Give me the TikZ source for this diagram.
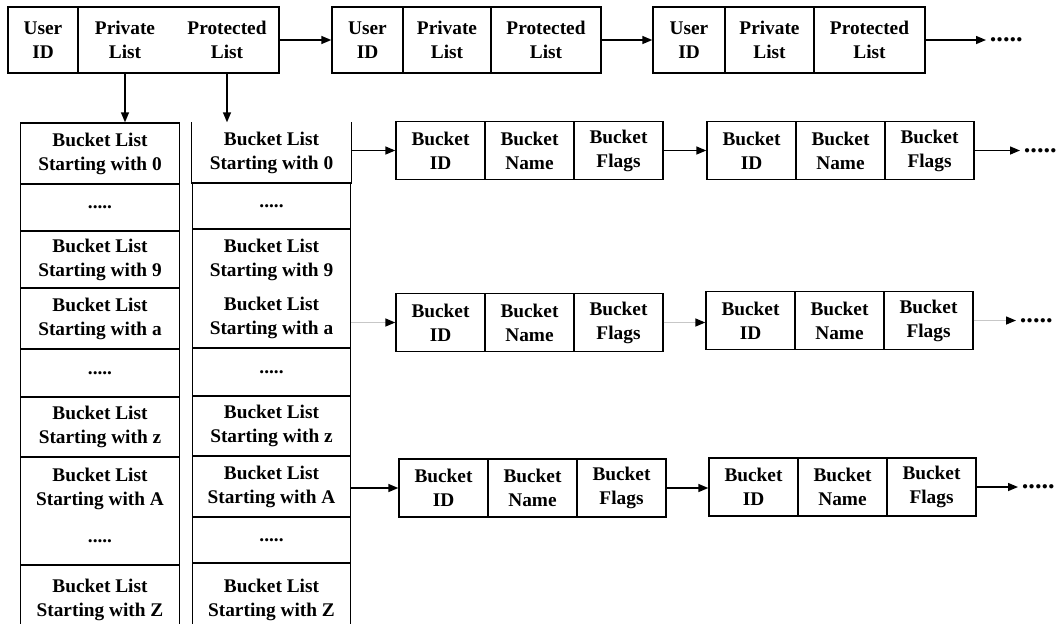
\documentclass[tikz,border=0pt]{standalone}
\usepackage{fontspec}
\setmainfont{Liberation Serif}
\usepackage{tikz}
\usetikzlibrary{arrows.meta}
\tikzset{
  rec/.style={draw,line width=0.8pt,inner sep=0pt,align=center,font=\fontsize{11}{13.6}\selectfont\bfseries},
  txt/.style={inner sep=0pt,align=center,font=\fontsize{11}{13.6}\selectfont\bfseries},
  ucel/.style={rec,minimum height=13.2mm},
  bcel/.style={rec,minimum width=17.8mm,minimum height=11.6mm},
  lcel/.style={rec,minimum width=3.17cm},
  lnk/.style={line width=0.8pt,-{Triangle[length=2mm,width=1.6mm]}},
  faint/.style={lnk,draw=black!22,-{Triangle[length=2mm,width=1.6mm,black]}},
  more/.style={inner xsep=2pt,inner ysep=0pt,font=\fontsize{15}{15}\selectfont\bfseries}
}
% one bucket record: name, left x, centre y
\newcommand{\bkrec}[3]{
  \node[bcel] (#1i) at (#2+44.5,#3) {Bucket\\ID};
  \node[bcel] (#1n) at (#2+133.5,#3) {Bucket\\Name};
  \node[bcel] (#1f) at (#2+222.5,#3) {Bucket\\Flags};
}

\begin{document}
\begin{tikzpicture}[x=0.02cm,y=-0.02cm]
\useasboundingbox (0,0) rectangle (1060,623);

% user records
\node[ucel,minimum width=14mm] (u1id) at (43,40) {User\\ID};
\node[ucel,minimum width=40.2mm] (u1pl) at (178.5,40) {};
\node[txt] (u1pv) at (125,40) {Private\\List};
\node[txt] (u1pt) at (227,40) {Protected\\List};
\node[ucel,minimum width=14.2mm] (u2id) at (367.5,40) {User\\ID};
\node[ucel,minimum width=17.6mm] (u2pv) at (447,40) {Private\\List};
\node[ucel,minimum width=22mm] (u2pt) at (546,40) {Protected\\List};
\node[ucel,minimum width=14.4mm] (u3id) at (689,40) {User\\ID};
\node[ucel,minimum width=17.8mm] (u3pv) at (769.5,40) {Private\\List};
\node[ucel,minimum width=22.2mm] (u3pt) at (869.5,40) {Protected\\List};
\node[more,anchor=west] (umore) at (986,40) {.....};
\draw[lnk] (u1pl) -- (u2id);
\draw[lnk] (u2pt) -- (u3id);
\draw[lnk] (u3pt) -- (umore);

% private bucket lists
\node[lcel,minimum height=12.2mm] (p0) at (100,153.5) {Bucket List\\Starting with 0};
\node[lcel,minimum height=9.4mm] (pd1) at (100,207.5) {.....};
\node[lcel,minimum height=11.4mm] (p9) at (100,259.5) {Bucket List\\Starting with 9};
\node[lcel,minimum height=12.2mm] (pa) at (100,318.5) {Bucket List\\Starting with a};
\node[lcel,minimum height=9.6mm] (pd2) at (100,373) {.....};
\node[lcel,minimum height=12mm] (pz) at (100,427) {Bucket List\\Starting with z};
\node[lcel,minimum height=21.6mm] (pA) at (100,511) {};
\node[txt] (pAt) at (100,489) {Bucket List\\Starting with A};
\node[txt] (pAd) at (100,541) {.....};
\node[lcel,minimum height=14mm] (pZ) at (100,600) {Bucket List\\Starting with Z};

% protected bucket lists
\node[lcel,draw=none,minimum height=12mm] (q0) at (271.5,153) {Bucket List\\Starting with 0};
\draw[line width=0.8pt] (q0.north west) -- (q0.south west) -- (q0.south east) -- (q0.north east);
\node[lcel,minimum height=9.2mm] (qd1) at (271.5,206) {.....};
\node[lcel,minimum height=23.8mm] (q9a) at (271.5,288.5) {};
\node[txt] (q9t) at (271.5,260) {Bucket List\\Starting with 9};
\node[txt] (qat) at (271.5,318) {Bucket List\\Starting with a};
\node[lcel,minimum height=9.6mm] (qd2) at (271.5,372) {.....};
\node[lcel,minimum height=12mm] (qz) at (271.5,426) {Bucket List\\Starting with z};
\node[lcel,minimum height=12.2mm] (qA) at (271.5,486.5) {Bucket List\\Starting with A};
\node[lcel,minimum height=9.2mm] (qd3) at (271.5,540) {.....};
\node[lcel,minimum height=14.8mm] (qZ) at (271.5,600) {Bucket List\\Starting with Z};

\draw[lnk] (u1pv |- u1pl.south) -- (u1pv |- p0.north);
\draw[lnk] (u1pt |- u1pl.south) -- (u1pt |- q0.north);

% bucket records
\bkrec{ba}{396}{150.5}
\bkrec{bb}{707}{150.5}
\node[more,anchor=west] (bmore) at (1020,150.5) {.....};
\bkrec{ca}{396}{322.5}
\bkrec{cb}{706}{320.5}
\node[more,anchor=west] (cmore) at (1016,320.5) {.....};
\bkrec{da}{399}{488}
\bkrec{db}{709}{487}
\node[more,anchor=west] (dmore) at (1018,487) {.....};

\draw[lnk] (bai.west -| q0.east) -- (bai.west);
\draw[lnk] (baf) -- (bbi);
\draw[lnk] (bbf) -- (bmore);
\draw[faint] (cai.west -| q9a.east) -- (cai.west);
\draw[faint] (caf.east) -- (caf.east -| cbi.west);
\draw[faint] (cbf) -- (cmore);
\draw[lnk] (dai.west -| qA.east) -- (dai.west);
\draw[lnk] (daf.east) -- (daf.east -| dbi.west);
\draw[lnk] (dbf) -- (dmore);
\end{tikzpicture}
\end{document}
